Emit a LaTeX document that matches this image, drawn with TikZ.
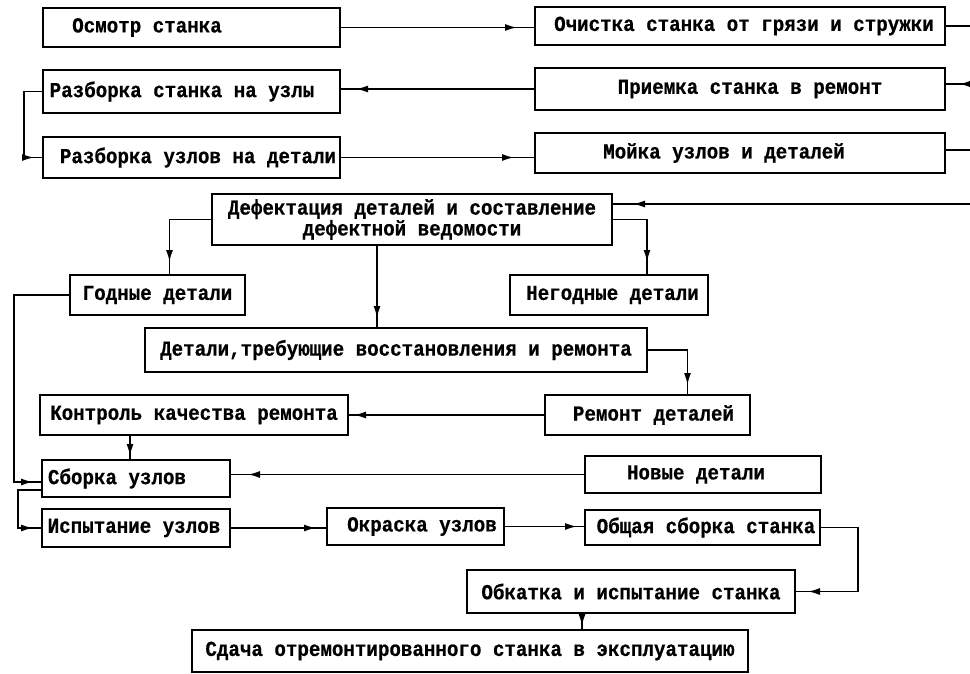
\documentclass[tikz,border=0pt]{standalone}
\usepackage{fontspec}
\newfontfamily\tw{Liberation Mono}[FakeStretch=0.9, BoldFeatures={FakeBold=0.6}]
\usetikzlibrary{arrows.meta,decorations.markings}
\tikzset{
  blk/.style={draw, line width=2pt, inner sep=0pt, align=center,
    font=\tw\bfseries\fontsize{21.3}{19}\selectfont},
  con/.style={line width=1.6pt},
  flow/.style={con, postaction={decorate},
    decoration={markings, mark=at position #1 with {\arrow{Latex[length=12pt,width=7pt]}}}},
}
\newcommand\bx[7]{%
  \pgfmathsetmacro\bxw{#4-#2}\pgfmathsetmacro\bxh{#5-#3}%
  \pgfmathsetmacro\bxcx{(#2+#4)/2}\pgfmathsetmacro\bxcy{(#3+#5)/2}%
  \node[blk, minimum width=\bxw pt, minimum height=\bxh pt] (#1) at (\bxcx,\bxcy) {\hspace*{#6}#7};}
\begin{document}
\begin{tikzpicture}[x=1pt,y=-1pt]
\useasboundingbox (0,0) rectangle (970,673);
\coordinate (eR) at (970,0);

\bx{osmotr}{43}{8}{340}{47}{-89pt}{Осмотр станка}
\bx{ochistka}{535}{7}{945}{45}{8pt}{Очистка станка от грязи и стружки}
\bx{razbst}{43}{70}{340}{113}{-19pt}{Разборка станка на узлы}
\bx{priemka}{535}{68}{945}{110}{20pt}{Приемка станка в ремонт}
\bx{razbuz}{43}{137}{340}{178}{13pt}{Разборка узлов на детали}
\bx{moika}{535}{133}{945}{173}{-32pt}{Мойка узлов и деталей}
\bx{defekt}{212}{194}{612}{245}{0pt}{Дефектация деталей и составление\\дефектной ведомости}
\bx{godnye}{70}{275}{245}{315}{0pt}{Годные детали}
\bx{negodnye}{510}{275}{708}{315}{7pt}{Негодные детали}
\bx{detali}{145}{328}{647}{372}{0pt}{Детали,требующие восстановления и ремонта}
\bx{remont}{545}{395}{750}{435}{12pt}{Ремонт деталей}
\bx{kontrol}{40}{395}{348}{435}{0pt}{Контроль качества ремонта}
\bx{novye}{585}{456}{821}{493}{-14pt}{Новые детали}
\bx{sborka}{42}{460}{230}{497}{-38pt}{Сборка узлов}
\bx{ispyt}{42}{509}{230}{547}{-4pt}{Испытание узлов}
\bx{okraska}{327}{508}{504}{545}{13pt}{Окраска узлов}
\bx{obshaya}{585}{510}{820}{545}{7pt}{Общая сборка станка}
\bx{obkatka}{467}{570}{795}{613}{0pt}{Обкатка и испытание станка}
\bx{sdacha}{192}{630}{748}{672}{0pt}{Сдача отремонтированного станка в эксплуатацию}

% connectors
\draw[flow=-17pt] (osmotr.east) -- (osmotr.east -| ochistka.west);
\draw[con] (ochistka.east) -- (ochistka.east -| eR);
\draw[flow=-13pt] ([yshift=5pt]priemka.east -| eR) -- ([yshift=5pt]priemka.east);
\draw[flow=-15pt] (priemka.west) -- (priemka.west -| razbst.east);
\draw[flow=-8pt] (razbst.west) -- ++(-18,0) |- (razbuz.west);
\draw[flow=-20pt] (razbuz.east) -- (razbuz.east -| moika.west);
\draw[con] ([yshift=3pt]moika.east) -- ([yshift=3pt]moika.east -| eR);
\draw[flow=-20pt] ([yshift=-11pt]defekt.north east -| eR) -- ([yshift=-11pt]defekt.north east);
\draw[flow=-12pt] (defekt.west) -| ([xshift=12pt]godnye.north);
\draw[flow=-9pt] ([xshift=-35pt]defekt.south) -- ([xshift=-35pt]defekt.south |- detali.north);
\draw[flow=-12pt] (defekt.east) -| ([xshift=38pt]negodnye.north);
\draw[flow=-8pt] (godnye.west) -- ++(-55,0) |- ([yshift=-3.5pt]sborka.west);
\draw[flow=-9pt] (detali.east) -| ([xshift=40pt]remont.north);
\draw[flow=-5pt] (remont.west) -- (remont.west -| kontrol.east);
\draw[flow=-3pt] ([xshift=-64pt]kontrol.south) -- ([xshift=-64pt]kontrol.south |- sborka.north);
\draw[flow=-17pt] (novye.west) -- (novye.west -| sborka.east);
\draw[flow=-8pt] ([yshift=-11.5pt]sborka.west) -- ++(-23,0) |- (ispyt.west);
\draw[flow=-10pt] (ispyt.east) -- (ispyt.east -| okraska.west);
\draw[flow=-7pt] (okraska.east) -- (okraska.east -| obshaya.west);
\draw[flow=-12pt] (obshaya.east) -- ++(37,0) |- (obkatka.east);
\draw[flow=-3pt] ([xshift=-49pt]obkatka.south) -- ([xshift=-49pt]obkatka.south |- sdacha.north);
\end{tikzpicture}
\end{document}
